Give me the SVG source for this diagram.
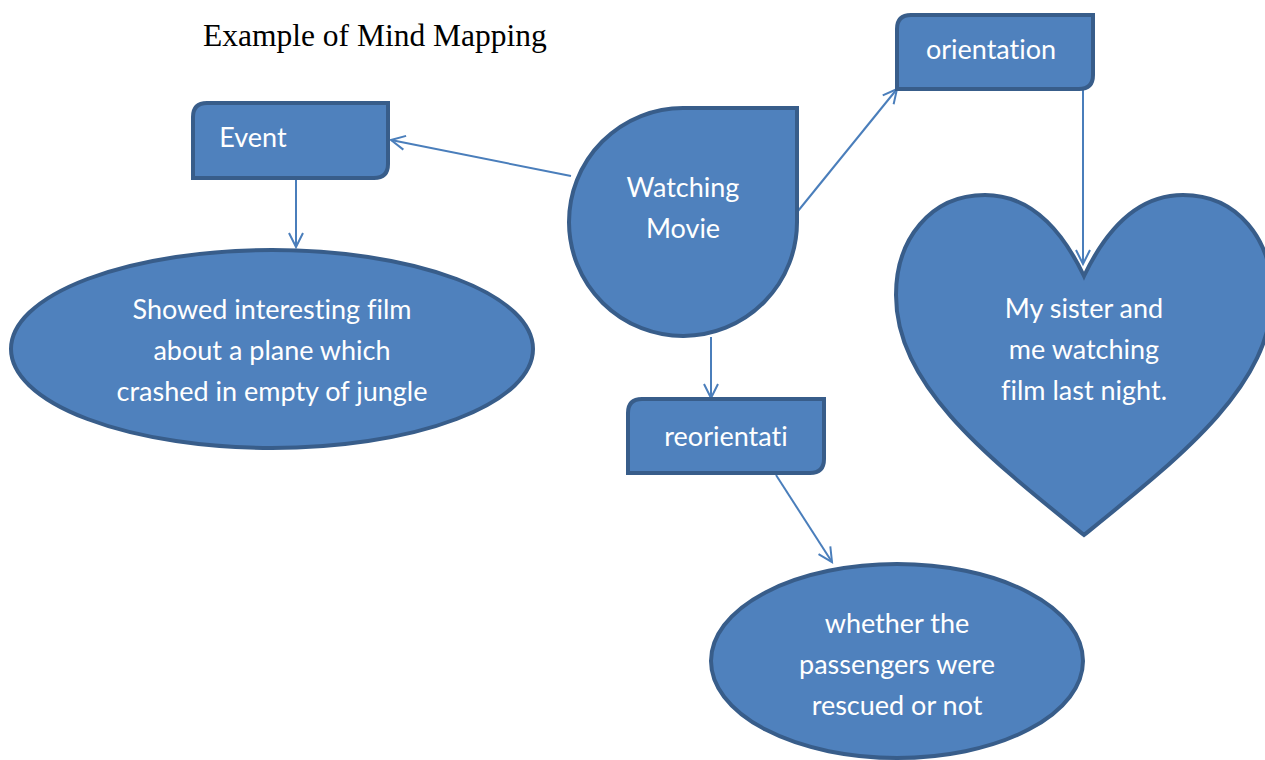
<svg xmlns="http://www.w3.org/2000/svg" width="1265" height="760" viewBox="0 0 1265 760">
<defs>
<style>
.shape{fill:#4F81BD;stroke:#385D8A;stroke-width:4}
.lbl{font-family:Lato,"Open Sans",sans-serif;font-size:27px;fill:#ffffff;text-anchor:middle;font-variant-ligatures:none}
.con{stroke:#4A7EBB;stroke-width:2;fill:none;marker-end:url(#arr)}
</style>
<marker id="arr" markerUnits="userSpaceOnUse" markerWidth="20" markerHeight="20" refX="15" refY="8" orient="auto" viewBox="0 0 20 16">
<path d="M1,1 L15,8 L1,15" fill="none" stroke="#4A7EBB" stroke-width="2"/>
</marker>
</defs>
<rect width="1265" height="760" fill="#ffffff"/>
<text x="203" y="46" font-family="Liberation Serif,serif" font-size="31.5" fill="#000">Example of Mind Mapping</text>
<g id="connectors">
<line class="con" x1="571" y1="176" x2="391" y2="140"/>
<line class="con" x1="296" y1="179" x2="296" y2="247"/>
<line class="con" x1="798" y1="211" x2="897" y2="89"/>
<line class="con" x1="1083" y1="90" x2="1083" y2="264"/>
<line class="con" x1="711" y1="337" x2="711" y2="398"/>
<line class="con" x1="776" y1="475" x2="832" y2="562"/>
</g>
<g id="event">
<path class="shape" d="M207,103 H388 V164 Q388,178 374,178 H193 V117 Q193,103 207,103 Z"/>
<text class="lbl" x="253" y="147">Event</text>
</g>
<g id="orientation">
<path class="shape" d="M911,15 H1093 V75 Q1093,89 1079,89 H897 V29 Q897,15 911,15 Z"/>
<text class="lbl" x="991" y="59">orientation</text>
</g>
<g id="reorientati">
<path class="shape" d="M642,399 H824 V459 Q824,473 810,473 H628 V413 Q628,399 642,399 Z"/>
<text class="lbl" x="726" y="446">reorientati</text>
</g>
<g id="watching-movie">
<path class="shape" d="M683,108 H797 V221 A114,114 0 1,1 683,108 Z"/>
<text class="lbl" x="683" y="197">Watching</text>
<text class="lbl" x="683" y="238">Movie</text>
</g>
<g id="event-detail">
<ellipse class="shape" cx="272" cy="349" rx="261" ry="99"/>
<text class="lbl" x="272" y="319">Showed interesting film</text>
<text class="lbl" x="272" y="360">about a plane which</text>
<text class="lbl" x="272" y="401">crashed in empty of jungle</text>
</g>
<g id="orientation-detail">
<path class="shape" d="M1084,276 C1062,230 1030,195 985,195 C930,195 896,240 896,295 C896,385 985,455 1084,535 C1183,455 1272,385 1272,295 C1272,240 1238,195 1183,195 C1138,195 1106,230 1084,276 Z"/>
<text class="lbl" x="1084" y="318">My sister and</text>
<text class="lbl" x="1084" y="359">me watching</text>
<text class="lbl" x="1084" y="400">film last night.</text>
</g>
<g id="reorientation-detail">
<ellipse class="shape" cx="897" cy="661" rx="186" ry="97"/>
<text class="lbl" x="897" y="633">whether the</text>
<text class="lbl" x="897" y="674">passengers were</text>
<text class="lbl" x="897" y="715">rescued or not</text>
</g>
</svg>
